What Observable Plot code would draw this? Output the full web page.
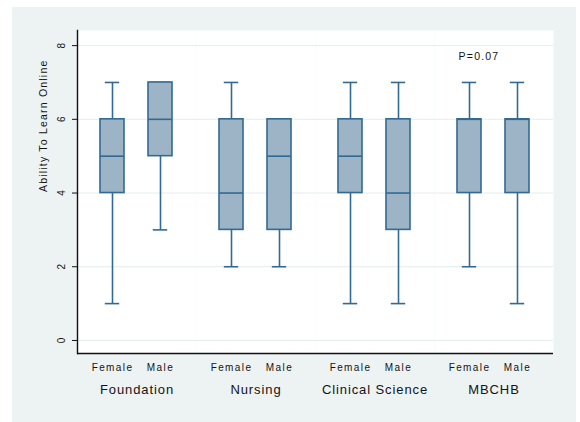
<!DOCTYPE html>
<html>
<head>
<meta charset="utf-8">
<script src="https://cdn.jsdelivr.net/npm/d3@7"></script>
<script src="https://cdn.jsdelivr.net/npm/@observablehq/plot@0.6"></script>
<style>
  html, body { margin: 0; padding: 0; background: #ffffff; }
  #wrap { position: relative; width: 580px; height: 422px; overflow: hidden; }
  #panel { position: absolute; left: 12px; top: 7px; width: 564px; height: 415px; background: #edf2f3; }
  #chart { position: absolute; left: 0; top: 0; }
  #chart svg { background: transparent !important; font-family: "Liberation Sans", Arial, sans-serif; }
  #chart svg text { fill: #141414; }
  #chart [aria-label="x-axis tick label"] text { letter-spacing: 1.4px; }
  #chart [aria-label="fx-axis tick label"] text { letter-spacing: 0.9px; }
  #chart [aria-label="text"] text { letter-spacing: 1.2px; }
</style>
</head>
<body>
<div id="wrap">
  <div id="panel"></div>
  <div id="chart"></div>
</div>
<script>
// Ability to learn online, by programme and sex: five-number summaries
const programmes = ["Foundation", "Foundation", "Nursing", "Nursing",
                    "Clinical Science", "Clinical Science", "MBCHB", "MBCHB"];
const sexes     = ["Female", "Male", "Female", "Male", "Female", "Male", "Female", "Male"];
const lows      = [1, 3, 2, 2, 1, 1, 2, 1];
const lowerQ    = [4, 5, 3, 3, 4, 3, 4, 4];
const medians   = [5, 6, 4, 5, 5, 4, 6, 6];
const upperQ    = [6, 7, 6, 6, 6, 6, 6, 6];
const highs     = [7, 7, 7, 6, 7, 7, 7, 7];

const groupOrder = ["Foundation", "Nursing", "Clinical Science", "MBCHB"];
const sexOrder = ["Female", "Male"];
const yTicks = [0, 2, 4, 6, 8];
const yDomain = [-0.354, 8.41];
const pLabel = "P=0.07";

const boxes = programmes.map((g, i) => ({
  group: g, sex: sexes[i],
  lo: lows[i], q1: lowerQ[i], med: medians[i], q3: upperQ[i], hi: highs[i]
}));

const boxStroke = "#326a93";
const boxFill = "#9db4c6";

const chart = Plot.plot({
  width: 580,
  height: 422,
  marginLeft: 77,
  marginRight: 27,
  marginTop: 30,
  marginBottom: 69,
  style: { fontFamily: "Liberation Sans, Arial, sans-serif", background: "transparent" },
  fx: { domain: groupOrder, padding: 0, label: null },
  x: { domain: sexOrder, paddingInner: 0.495, paddingOuter: 0.47, label: null },
  y: { domain: yDomain, label: null },
  marks: [
    Plot.frame({ fill: "white", stroke: null }),
    Plot.gridY(yTicks, { stroke: "#e4ecef", strokeOpacity: 1, strokeWidth: 1 }),
    // whiskers and caps
    Plot.ruleX(boxes, { fx: "group", x: "sex", y1: "lo", y2: "hi", stroke: boxStroke, strokeWidth: 1.6 }),
    Plot.tickY(boxes, { fx: "group", x: "sex", y: "lo", stroke: boxStroke, strokeWidth: 1.6, insetLeft: 4.8, insetRight: 4.8 }),
    Plot.tickY(boxes, { fx: "group", x: "sex", y: "hi", stroke: boxStroke, strokeWidth: 1.6, insetLeft: 4.8, insetRight: 4.8 }),
    // interquartile boxes and medians
    Plot.barY(boxes, { fx: "group", x: "sex", y1: "q1", y2: "q3", fill: boxFill, stroke: boxStroke, strokeWidth: 1.6 }),
    Plot.tickY(boxes, { fx: "group", x: "sex", y: "med", stroke: boxStroke, strokeWidth: 1.6 }),
    // axis lines
    Plot.ruleY([yDomain[0]], { stroke: "#111", strokeWidth: 1.5 }),
    Plot.frame({ anchor: "left", stroke: "#111", strokeWidth: 1.4, facetAnchor: "left" }),
    Plot.axisY(yTicks, {
      tickSize: 5, tickRotate: -90, tickPadding: 8, fontSize: 10, label: null,
      stroke: "#111"
    }),
    Plot.axisX({ tickSize: 0, tickPadding: 10, fontSize: 10, label: null }),
    Plot.axisFx({ anchor: "bottom", tickSize: 0, tickPadding: 31, fontSize: 13, label: null }),
    Plot.text(["Ability To Learn Online"], {
      text: (d) => d, frameAnchor: "left", rotate: -90, dx: -34,
      fontSize: 10.5, facetAnchor: "left"
    }),
    Plot.text([{ group: "MBCHB", t: pLabel }], {
      fx: "group", text: "t", frameAnchor: "top", dx: -15, dy: 22, fontSize: 10.5
    })
  ]
});

document.getElementById("chart").appendChild(chart);
</script>
</body>
</html>
